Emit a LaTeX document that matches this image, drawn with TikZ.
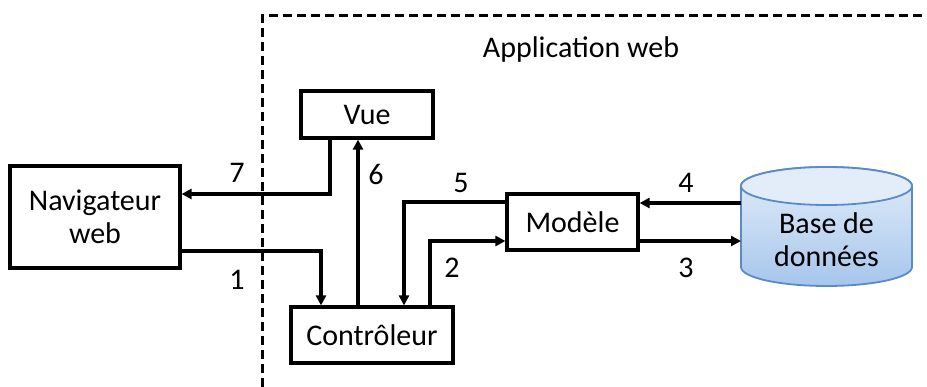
\documentclass[tikz,border=0pt]{standalone}
\usepackage{fontspec}
\setmainfont{Carlito}
\usetikzlibrary{arrows.meta,calc}
\definecolor{dbborder}{HTML}{5B8AC8}
\definecolor{dbtop}{HTML}{E3EDF9}
\definecolor{dbbot}{HTML}{A6C6EC}
\begin{document}
\begin{tikzpicture}[x=1pt,y=1pt,
  box/.style={draw,line width=3.2pt,fill=white,inner sep=0pt,align=center},
  arr/.style={line width=3.4pt,-{Triangle[length=10pt,width=10pt]}},
  lbl/.style={inner sep=0pt},
  every node/.style={font=\fontsize{30}{33}\selectfont}]
\useasboundingbox (0,0) rectangle (927,-387);
% dashed frame
\draw[line width=3pt,dash pattern=on 9pt off 5pt] (262,-387) -- (262,-16) -- (927,-16);
\node[lbl] (app) at (581,-50) {Application web};
% nodes
\node[box,minimum width=170pt,minimum height=102pt] (nav) at (95,-217) {Navigateur\\web};
\node[box,minimum width=132pt,minimum height=47pt] (vue) at (367,-114.5) {Vue};
\node[box,minimum width=162pt,minimum height=56pt] (ctrl) at (372,-335) {Contrôleur};
\node[box,minimum width=131pt,minimum height=56pt] (mod) at (572.5,-222) {Modèle};
% database cylinder
\shade[top color=dbtop,bottom color=dbbot,draw=dbborder,line width=1.8pt]
  (741,-186) -- (741,-267) arc[start angle=180,end angle=360,x radius=85.5pt,y radius=19pt]
  -- (912,-186) arc[start angle=0,end angle=180,x radius=85.5pt,y radius=19pt] -- cycle;
\draw[draw=dbborder,fill=dbtop,line width=1.8pt] (826.5,-186) ellipse[x radius=85.5pt,y radius=19pt];
\node[lbl,align=center] (db) at (826.5,-240) {Base de\\données};
\coordinate (db4) at (741,-203);
\coordinate (db3) at (741,-241);
% connectors
\draw[arr] ([xshift=-37pt]vue.south) |- ([yshift=23pt]nav.east);
\draw[arr] ([yshift=-34pt]nav.east) -| ([xshift=-51pt]ctrl.north);
\draw[arr] ([xshift=-14pt]ctrl.north) -- ([xshift=-14pt]ctrl.north |- vue.south);
\draw[arr] ([yshift=20pt]mod.west) -| ([xshift=32pt]ctrl.north);
\draw[arr] ([xshift=58pt]ctrl.north) |- ([yshift=-19pt]mod.west);
\draw[arr] (db4) -- (db4 -| mod.east);
\draw[arr] (db3 -| mod.east) -- (db3);
% labels
\node[lbl] (l7) at (237,-173) {7};
\node[lbl] (l6) at (376,-174) {6};
\node[lbl] (l1) at (237,-280) {1};
\node[lbl] (l5) at (461,-183) {5};
\node[lbl] (l2) at (452,-268) {2};
\node[lbl] (l4) at (686,-183) {4};
\node[lbl] (l3) at (686,-268) {3};
\end{tikzpicture}
\end{document}
